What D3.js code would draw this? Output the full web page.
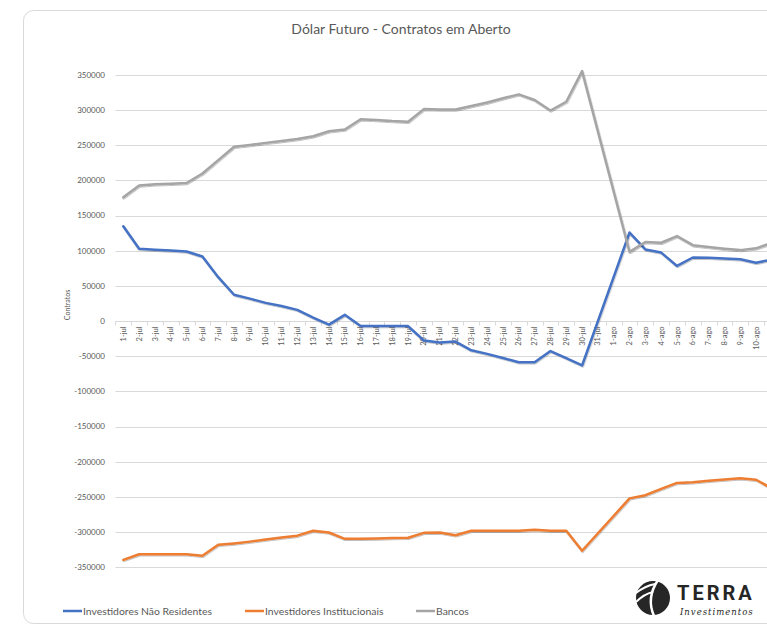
<!DOCTYPE html>
<html>
<head>
<meta charset="utf-8">
<script src="https://cdnjs.cloudflare.com/ajax/libs/d3/7.8.5/d3.min.js"></script>
<style>
body { margin:0; background:#fff; }
svg { display:block; font-family: Lato, "Open Sans", sans-serif; }
</style>
</head>
<body>
<div id="chart"></div>
<script>
var categories = ['1-jul','2-jul','3-jul','4-jul','5-jul','6-jul','7-jul','8-jul','9-jul','10-jul',
  '11-jul','12-jul','13-jul','14-jul','15-jul','16-jul','17-jul','18-jul','19-jul','20-jul',
  '21-jul','22-jul','23-jul','24-jul','25-jul','26-jul','27-jul','28-jul','29-jul','30-jul','31-jul',
  '1-ago','2-ago','3-ago','4-ago','5-ago','6-ago','7-ago','8-ago','9-ago','10-ago','11-ago'];

// null = sem dado (linha liga os pontos vizinhos)
var naoResidentes = [135000,103000,101500,100500,99000,92000,62500,37500,32000,26000,
  21500,16000,5000,-5000,9000,-7000,-7000,-7000,-7000,-27500,
  -30500,-29000,-41500,-46500,-52500,-58500,-58500,-42500,-52500,-63000,null,
  null,126000,102000,97500,78500,90500,90000,89000,88000,83000,87500];

var institucionais = [-339500,-331500,-331500,-331500,-331500,-333500,-318000,-316000,-313500,-310500,
  -307500,-305000,-298000,-300500,-309500,-309500,-309000,-308500,-308000,-301000,
  -300500,-304500,-298000,-298000,-298000,-298000,-296500,-298000,-298000,-326500,null,
  null,-252000,-247500,-238500,-230000,-229000,-227000,-225000,-223500,-225500,-238000];

var bancos = [176000,193000,194500,195500,196500,210000,229000,248000,250500,253500,
  256000,259000,263000,270000,272500,287000,286000,284500,283500,301500,
  301000,301000,306000,311000,317000,322500,314500,299500,312000,355500,null,
  null,98500,112500,111500,121000,108000,105500,103000,101000,103500,111500];

var yTicks = [350000,300000,250000,200000,150000,100000,50000,0,-50000,-100000,
  -150000,-200000,-250000,-300000,-350000];

var seriesNames = ['Investidores Não Residentes','Investidores Institucionais','Bancos'];
var seriesColors = ['#4472C4','#ED7D31','#A5A5A5'];

var width = 767, height = 626;
var step = 15.82;
var plotLeft = 115.4;

var svg = d3.select('#chart').append('svg')
  .attr('width', width)
  .attr('height', height);

var defs = svg.append('defs');
defs.append('filter')
  .attr('id', 'shadow')
  .attr('x', '-5%').attr('y', '-5%').attr('width', '110%').attr('height', '110%')
  .append('feDropShadow')
  .attr('dx', 0.6).attr('dy', 1)
  .attr('stdDeviation', 0.7)
  .attr('flood-color', '#000')
  .attr('flood-opacity', 0.25);

// card
svg.append('rect')
  .attr('x', 23.5).attr('y', 10.5)
  .attr('width', 800).attr('height', 613)
  .attr('rx', 10)
  .attr('fill', '#fff')
  .attr('stroke', '#d9d9d9');

svg.append('text')
  .attr('x', 401)
  .attr('y', 34)
  .attr('text-anchor', 'middle')
  .style('font-size', '14px')
  .style('fill', '#595959')
  .text('Dólar Futuro - Contratos em Aberto');

var x = d3.scaleBand()
  .domain(categories)
  .range([plotLeft, plotLeft + step * categories.length])
  .padding(0);

var y = d3.scaleLinear()
  .domain([-350000, 350000])
  .range([567.3, 75]);

var xEnd = plotLeft + step * categories.length;

// gridlines
svg.append('g')
  .selectAll('line')
  .data(yTicks)
  .enter().append('line')
  .attr('x1', plotLeft)
  .attr('x2', xEnd)
  .attr('y1', function(d) { return Math.round(y(d)) + 0.5; })
  .attr('y2', function(d) { return Math.round(y(d)) + 0.5; })
  .attr('stroke', '#d9d9d9')
  .attr('stroke-width', 1);

svg.append('g')
  .selectAll('text')
  .data(yTicks)
  .enter().append('text')
  .attr('x', 105)
  .attr('y', function(d) { return y(d); })
  .attr('dy', '0.34em')
  .attr('text-anchor', 'end')
  .style('font-size', '8px')
  .style('fill', '#595959')
  .text(function(d) { return d; });

svg.append('text')
  .attr('transform', 'translate(70,305) rotate(-90)')
  .attr('text-anchor', 'middle')
  .style('font-size', '7px')
  .style('fill', '#595959')
  .text('Contratos');

// x axis on zero
var y0 = Math.round(y(0)) + 0.5;
svg.append('g')
  .selectAll('line')
  .data(categories.concat(['end']))
  .enter().append('line')
  .attr('x1', function(d, i) { return Math.round(plotLeft + i * step) + 0.5; })
  .attr('x2', function(d, i) { return Math.round(plotLeft + i * step) + 0.5; })
  .attr('y1', y0)
  .attr('y2', y0 + 4)
  .attr('stroke', '#d9d9d9');

// only the labels that fall inside the visible card
var visibleCats = categories.filter(function(d) {
  return x(d) + x.bandwidth() / 2 + 5 < width;
});

svg.append('g')
  .selectAll('text')
  .data(visibleCats)
  .enter().append('text')
  .attr('transform', function(d) {
    return 'translate(' + (x(d) + x.bandwidth() / 2) + ',' + (y0 + 5) + ') rotate(-90)';
  })
  .attr('dy', '0.34em')
  .attr('text-anchor', 'end')
  .style('font-size', '7.5px')
  .style('fill', '#595959')
  .text(function(d) { return d; });

// lines
var allSeries = [naoResidentes, institucionais, bancos];
var line = d3.line()
  .x(function(d) { return x(d.cat) + x.bandwidth() / 2; })
  .y(function(d) { return y(d.value); });

allSeries.forEach(function(values, k) {
  var pts = categories.map(function(c, i) { return {cat: c, value: values[i]}; })
    .filter(function(d) { return d.value !== null; });
  svg.append('path')
    .datum(pts)
    .attr('d', line)
    .attr('fill', 'none')
    .attr('stroke', seriesColors[k])
    .attr('stroke-width', 2.5)
    .attr('stroke-linejoin', 'round')
    .attr('stroke-linecap', 'round')
    .attr('filter', 'url(#shadow)');
});

// legend
var legendX = [63, 245, 416];
var legend = svg.selectAll('.legend')
  .data(seriesNames)
  .enter().append('g')
  .attr('class', 'legend')
  .attr('transform', function(d, i) { return 'translate(' + legendX[i] + ',611)'; });

legend.append('line')
  .attr('x1', 0).attr('x2', 19)
  .attr('y1', 0).attr('y2', 0)
  .attr('stroke', function(d, i) { return seriesColors[i]; })
  .attr('stroke-width', 2.5);

legend.append('text')
  .attr('x', 20)
  .attr('dy', '0.34em')
  .style('font-size', '10.4px')
  .style('fill', '#595959')
  .text(function(d) { return d; });

// logo
var logo = svg.append('g').attr('transform', 'translate(653,598)');
logo.append('circle').attr('r', 17).attr('fill', '#262626');
logo.append('path')
  .attr('d', 'M5,-18 Q-7,0 1,18')
  .attr('fill', 'none').attr('stroke', '#fff').attr('stroke-width', 2.5);
logo.append('path')
  .attr('d', 'M-17,-5 Q-8,-12 2,-14')
  .attr('fill', 'none').attr('stroke', '#fff').attr('stroke-width', 1.8);
logo.append('path')
  .attr('d', 'M-17,4 Q-9,-4 0,-6')
  .attr('fill', 'none').attr('stroke', '#fff').attr('stroke-width', 1.8);

svg.append('text')
  .attr('x', 677)
  .attr('y', 600)
  .style('font-family', 'Roboto, sans-serif')
  .style('font-weight', 'bold')
  .style('font-size', '20px')
  .style('letter-spacing', '3px')
  .style('fill', '#262626')
  .text('TERRA');

svg.append('text')
  .attr('x', 680)
  .attr('y', 615)
  .style('font-family', '"DejaVu Serif", serif')
  .style('font-style', 'italic')
  .style('font-size', '8.5px')
  .style('letter-spacing', '1px')
  .style('fill', '#262626')
  .text('Investimentos');
</script>
</body>
</html>
